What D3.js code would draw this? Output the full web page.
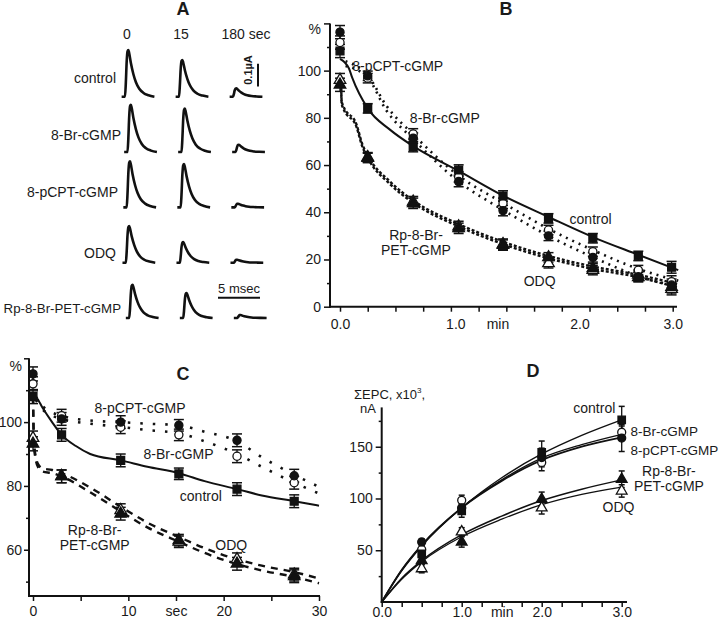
<!DOCTYPE html>
<html><head><meta charset="utf-8">
<script src="https://cdn.jsdelivr.net/npm/d3@7"></script>
<style>
body{margin:0;background:#fff}
svg{display:block}
text{font-family:Arial,"Liberation Sans",sans-serif;fill:#1a1a1a}
</style>
</head><body>
<svg id="fig" width="720" height="622"></svg>
<script>
// ================= DATA =================
// Panel A : EPC traces (peak amplitude, µA) at 0, 15 and 180 sec
const aRows = ["control","8-Br-cGMP","8-pCPT-cGMP","ODQ","Rp-8-Br-PET-cGMP"];
const aCols = ["0","15","180 sec"];
const aAmp = [
  [0.206,0.162,0.037],
  [0.208,0.191,0.032],
  [0.203,0.191,0.016],
  [0.161,0.091,0.013],
  [0.146,0.110,0.013]
];
const aLatency = [0,0.3,0.2,0.1,0.5]; // ms
// normalised EPC waveform (ms, fraction of peak)
const aShapeT = [-0.4,0,0.1,0.2,0.3,0.4,0.5,0.7,1.0,1.3,1.7,2.2,2.8,3.5];
const aShapeV = [0,0,0.3,0.75,0.97,1.0,0.93,0.72,0.48,0.31,0.17,0.08,0.03,0];

// Panel B : % of initial EPC vs time (min)
const bTimes   = [0,0.25,0.66,1.07,1.47,1.88,2.28,2.69,2.99];
const bControl = [108.3,84,67.8,57.9,46.9,37.4,29,21.5,16.7];
const bBr      = [111.9,96.8,73.2,55,43.8,32.5,23.3,15.5,10.6];
const bPcpt    = [116.3,97.8,71.4,53,40.7,30,20.9,12.7,9.2];
const bRp      = [94,63.3,43.8,33.2,26.1,20.9,16.3,12.5,8.3];
const bOdq     = [96,63,44.5,34,26.5,18.4,15.5,13.5,7.5];
const bErr     = [2.8,2,2.2,2.2,2.2,2,2,2,2.5];
const bFitCtlT = [0,0.08,0.11,0.25,0.45,0.66,1.07,1.47,1.88,2.28,2.69,3.05];
const bFitCtlV = [105,101,97,84,75,68,57.5,47,38,29.5,22,15.5];
const bFitCgT  = [0.05,0.25,0.42,0.66,1.07,1.47,1.88,2.28,2.69,3.05];
const bFitPcptV= [102,97,83,71,53,41,30,21,13,8.5];
const bFitBrV  = [104,98,85,73,55.5,44,33,24,16,11];
const bFitInT  = [0.01,0.015,0.03,0.15,0.2,0.25,0.45,0.66,1.07,1.47,1.88,2.28,2.69,3.05];
const bFitRpV  = [94,86,84,76,68,63,52,44,34,26.5,20.5,16,12.5,8];
const bFitOdqV = [95,87,85,77,69,64,53,45,35,27.5,21.5,17,13.5,9.5];
const bXLabelAt = [0,1.04,1.42,2.16,3.0];
const bXLabels  = ["0.0","1.0","min","2.0","3.0"];

// Panel C : % vs time (sec)
const cTimes   = [0,3,9.2,15.3,21.4,27.4];
const cControl = [108,96,88,83.8,79,75.2];
const cBr      = [112,102,98.4,96,89.3,81];
const cPcpt    = [115.1,101,100,99,94.3,83.2];
const cRp      = [93.2,83,71.3,63,55.6,51.7];
const cOdq     = [95,83,72.4,62.5,57,52.2];
const cErr     = [2.2,2,2,1.8,2,2];
const cFitCtlT = [0,0.4,1,2,3,4.5,6,9.2,12,15.3,18,21.4,24,27.4,30];
const cFitCtlV = [108,107.5,104.5,100,96,92.5,90,88,86,84,81.5,79,77,75.2,73.8];
const cFitCgT  = [0.3,1,3,6,9.2,12,15.3,18,21.4,24,27.4,30.5];
const cFitPcptV= [108,105,102,100.5,100,99.5,99,97,94,89,83.5,79];
const cFitBrV  = [107,104,101,99.5,98.5,97.5,96.5,94,90,86,81,77];
const cFitInT  = [0,0.1,0.3,0.6,1,2,3,6,9.2,12,15.3,18,21.4,24,27.4,30];
const cFitRpV  = [108,93,88,85.5,84.5,84,83,78,72,67,62.5,59,55.5,53.5,51.5,49.5];
const cFitOdqV = [108,94,89,86.5,85.5,85,84,79.5,73.5,68.5,64,60.5,57,55,53,51];
const cXLabelAt = [0,10,15,20,30];
const cXLabels  = ["0","10","sec","20","30"];

// Panel D : cumulative EPC (x10^3 nA) vs time (min)
const dTimes   = [0.5,1,2,3];
const dControl = [46.4,87.9,144.5,176];
const dBr      = [50.7,98.2,134.8,164];
const dPcpt    = [58,91,139.6,158.4];
const dRp      = [40,58,99.2,118.6];
const dOdq     = [32.2,67.8,91,107.3];
const dErrCtl  = [5,6,11,13];
const dErrBr   = [4,5,8,6];
const dErrPcpt = [3,5,9,13];
const dErrRp   = [4,5,7,8];
const dErrOdq  = [4,4,6,6];
const dFitT    = [0,0.25,0.5,1,1.5,2,2.5,3];
const dFitCtl  = [0,30,54,91,120,143,161,176];
const dFitBr   = [0,31,55,91,118,139,152,162];
const dFitPcpt = [0,31,55,91,117,137,150,159];
const dFitRp   = [0,23,40,65,83,98,109,118];
const dFitOdq  = [0,22,39,63,80,94,104,111];
const dXLabelAt = [0,1,1.5,2,3];
const dXLabels  = ["0.0","1.0","min","2.0","3.0"];

// ================= DRAWING =================
const svg = d3.select("#fig");
const INK = "#111";

function txt(x,y,s,opt={}){
  const t = svg.append("text").attr("x",x).attr("y",y).text(s)
    .attr("font-size",opt.size||14).attr("text-anchor",opt.anchor||"start");
  if(opt.bold) t.attr("font-weight","bold");
  return t;
}
const symType = {square:d3.symbolSquare, circle:d3.symbolCircle, triangle:d3.symbolTriangle};
function marker(g,type,open,x,y,size){
  g.append("path").attr("d",d3.symbol(symType[type], size || (type==="square"?62:type==="circle"?52:58))())
    .attr("transform",`translate(${x},${y})`)
    .attr("fill",open?"#fff":INK).attr("stroke",INK).attr("stroke-width",1.3);
}
function errbars(g,xs,ys,times,vals,errs,cap=5){
  times.forEach((t,i)=>{
    const e = Array.isArray(errs)?errs[i]:errs;
    const x = xs(t), y1 = ys(vals[i]-e), y2 = ys(vals[i]+e);
    g.append("line").attr("x1",x).attr("x2",x).attr("y1",y1).attr("y2",y2).attr("stroke",INK).attr("stroke-width",1.3);
    [y1,y2].forEach(y=>g.append("line").attr("x1",x-cap).attr("x2",x+cap).attr("y1",y).attr("y2",y).attr("stroke",INK).attr("stroke-width",1.5));
  });
}
function points(g,xs,ys,times,vals,type,open,size){
  times.forEach((t,i)=>marker(g,type,open,xs(t),ys(vals[i]),size));
}
function fit(g,xs,ys,T,V,dash,w){
  const line = d3.line().x(d=>xs(d[0])).y(d=>ys(d[1])).curve(d3.curveMonotoneX);
  g.append("path").attr("d",line(T.map((t,i)=>[t,V[i]]))).attr("fill","none")
   .attr("stroke",INK).attr("stroke-width",w||2).attr("stroke-dasharray",dash||null);
}
function styleAxis(sel){
  sel.select(".domain").remove();
  sel.selectAll("line").attr("stroke",INK).attr("stroke-width",1.5);
  sel.selectAll("text").attr("font-size",14).attr("fill","#1a1a1a").attr("font-family","Arial, Liberation Sans, sans-serif");
}
function axisLine(x1,y1,x2,y2){
  svg.append("line").attr("x1",x1).attr("y1",y1).attr("x2",x2).attr("y2",y2).attr("stroke",INK).attr("stroke-width",2);
}

// ---------- Panel A ----------
(function(){
  const g = svg.append("g");
  const rowBase = d3.scalePoint().domain(aRows).range([96.7,318]);
  const colOn = d3.scalePoint().domain(aCols).range([125,233]);
  const pxPerMs = 8.4, pxPerUA = 227;
  txt(183,15,"A",{size:18,bold:true,anchor:"middle"});
  aCols.forEach((c,j)=>txt(j===2?colOn(c)+13:colOn(c)+2,39,c,{anchor:"middle"}));
  aRows.forEach((r,i)=>{
    txt(i===1||i===4?121:i===2?118:116,[83.3,140,196.7,258.3,313.3][i],r,{anchor:"end",size:i===4?13.3:14});
    aCols.forEach((c,j)=>{
      const x0 = colOn(c) + aLatency[i]*pxPerMs;
      const xs = d3.scaleLinear().domain([0,1]).range([x0,x0+pxPerMs]);
      const ys = d3.scaleLinear().domain([0,0.1]).range([rowBase(r),rowBase(r)-0.1*pxPerUA]);
      const line = d3.line().x(d=>xs(d[0])).y(d=>ys(d[1])).curve(d3.curveMonotoneX);
      g.append("path").attr("d",line(aShapeT.map((t,k)=>[t,aShapeV[k]*aAmp[i][j]])))
        .attr("fill","none").attr("stroke",INK).attr("stroke-width",2.6).attr("stroke-linejoin","round");
    });
  });
  // scale bars
  const ysb = d3.scaleLinear().domain([0,0.1]).range([86.5,86.5-0.1*pxPerUA]);
  g.append("line").attr("x1",258).attr("x2",258).attr("y1",ysb(0)).attr("y2",ysb(0.1)).attr("stroke",INK).attr("stroke-width",2);
  svg.append("text").attr("transform","translate(252,70) rotate(-90)").attr("text-anchor","middle")
     .attr("font-size",11).attr("font-weight","bold").text("0.1µA");
  const xsb = d3.scaleLinear().domain([0,5]).range([218,218+5*pxPerMs]);
  g.append("line").attr("x1",xsb(0)).attr("x2",xsb(5)).attr("y1",297.7).attr("y2",297.7).attr("stroke",INK).attr("stroke-width",2);
  txt(239,293,"5 msec",{anchor:"middle",size:13});
})();

// ---------- Panel B ----------
(function(){
  const g = svg.append("g");
  const xs = d3.scaleLinear().domain([0,3]).range([340,672.7]);
  const ys = d3.scaleLinear().domain([0,120]).range([306.7,23.4]);
  txt(506,15,"B",{size:18,bold:true,anchor:"middle"});
  axisLine(330,23.4,330,307.7); axisLine(329,306.7,677,306.7);
  const ya = svg.append("g").attr("transform","translate(330,0)")
    .call(d3.axisLeft(ys).tickValues([0,20,40,60,80,100,120]).tickSize(6).tickPadding(3).tickFormat(d=>d===120?"%":d));
  styleAxis(ya); ya.selectAll("text").filter(d=>d===120).attr("dy","0.75em");
  const ym = svg.append("g").attr("transform","translate(330,0)")
    .call(d3.axisLeft(ys).tickValues([10,30,50,70,90,110]).tickSize(3).tickFormat(""));
  styleAxis(ym);
  const xa = svg.append("g").attr("transform","translate(0,306.7)")
    .call(d3.axisBottom(xs).tickValues(d3.range(0,3.01,0.25)).tickSize(5).tickFormat(""));
  styleAxis(xa);
  const xl = svg.append("g").attr("transform","translate(0,306.7)")
    .call(d3.axisBottom(xs).tickValues(bXLabelAt).tickSize(0).tickPadding(12).tickFormat((d,i)=>bXLabels[i]));
  styleAxis(xl);

  fit(g,xs,ys,bFitInT,bFitRpV,"3,2",2.4);
  fit(g,xs,ys,bFitInT,bFitOdqV,"3,2",2.4);
  fit(g,xs,ys,bFitCgT,bFitPcptV,"2,5",2.6);
  fit(g,xs,ys,bFitCgT,bFitBrV,"2,5",2.6);
  fit(g,xs,ys,bFitCtlT,bFitCtlV,null,2);
  [bControl,bBr,bPcpt,bRp,bOdq].forEach(v=>errbars(g,xs,ys,bTimes,v,bErr));
  points(g,xs,ys,bTimes,bOdq,"triangle",true);
  points(g,xs,ys,bTimes,bRp,"triangle",false);
  points(g,xs,ys,bTimes,bBr,"circle",true);
  points(g,xs,ys,bTimes,bPcpt,"circle",false);
  points(g,xs,ys,bTimes,bControl,"square",false);
  txt(xs(0.11),ys(100),"8-pCPT-cGMP");
  txt(xs(0.63),ys(77.8),"8-Br-cGMP");
  txt(xs(2.07),ys(35),"control");
  txt(xs(0.685),ys(28.3),"Rp-8-Br-",{anchor:"middle"});
  txt(xs(0.685),ys(21.9),"PET-cGMP",{anchor:"middle"});
  txt(xs(1.8),ys(8.8),"ODQ",{anchor:"middle"});
})();

// ---------- Panel C ----------
(function(){
  const g = svg.append("g");
  const xs = d3.scaleLinear().domain([0,30]).range([33,319]);
  const ys = d3.scaleLinear().domain([45.5,120]).range([596,358.3]);
  txt(183,380,"C",{size:18,bold:true,anchor:"middle"});
  axisLine(29,358.3,29,597); axisLine(28,596,320,596);
  const ya = svg.append("g").attr("transform","translate(29,0)")
    .call(d3.axisLeft(ys).tickValues([60,80,100,120]).tickSize(5).tickPadding(2).tickFormat(d=>d===120?"%":d));
  styleAxis(ya); ya.selectAll("text").filter(d=>d===120).attr("dy","0.9em");
  const ym = svg.append("g").attr("transform","translate(29,0)")
    .call(d3.axisLeft(ys).tickValues([50,70,90,110]).tickSize(3).tickFormat(""));
  styleAxis(ym);
  const xa = svg.append("g").attr("transform","translate(0,596)")
    .call(d3.axisBottom(xs).tickValues(d3.range(0,30.1,5)).tickSize(5).tickFormat(""));
  styleAxis(xa);
  const xl = svg.append("g").attr("transform","translate(0,596)")
    .call(d3.axisBottom(xs).tickValues(cXLabelAt).tickSize(0).tickPadding(10).tickFormat((d,i)=>cXLabels[i]));
  styleAxis(xl);

  fit(g,xs,ys,cFitInT,cFitRpV,"7,6",2.4);
  fit(g,xs,ys,cFitInT,cFitOdqV,"7,6",2.4);
  fit(g,xs,ys,cFitCgT,cFitPcptV,"2.5,10",2.6);
  fit(g,xs,ys,cFitCgT,cFitBrV,"2.5,10",2.6);
  fit(g,xs,ys,cFitCtlT,cFitCtlV,null,2);
  [cControl,cBr,cPcpt,cRp,cOdq].forEach(v=>errbars(g,xs,ys,cTimes,v,cErr));
  points(g,xs,ys,cTimes,cOdq,"triangle",true);
  points(g,xs,ys,cTimes,cRp,"triangle",false);
  points(g,xs,ys,cTimes,cBr,"circle",true);
  points(g,xs,ys,cTimes,cPcpt,"circle",false);
  points(g,xs,ys,cTimes,cControl,"square",false);
  txt(xs(6.46),ys(102.9),"8-pCPT-cGMP");
  txt(xs(11.6),ys(88.5),"8-Br-cGMP");
  txt(xs(15.4),ys(75.2),"control");
  txt(xs(6.47),ys(64.5),"Rp-8-Br-",{anchor:"middle"});
  txt(xs(6.47),ys(59.8),"PET-cGMP",{anchor:"middle"});
  txt(xs(20.8),ys(59.9),"ODQ",{anchor:"middle"});
})();

// ---------- Panel D ----------
(function(){
  const g = svg.append("g");
  const xs = d3.scaleLinear().domain([0,3]).range([381.7,621.7]);
  const ys = d3.scaleLinear().domain([0,188]).range([602,407.4]);
  txt(533,377,"D",{size:18,bold:true,anchor:"middle"});
  const lab = svg.append("text").attr("x",354).attr("y",399).attr("font-size",13);
  lab.append("tspan").text("ΣEPC, x10");
  lab.append("tspan").attr("font-size",8).attr("dy",-6).text("3");
  lab.append("tspan").attr("dy",6).text(",");
  txt(360,413,"nA",{size:13});
  axisLine(381.7,407.4,381.7,603); axisLine(380.7,602,627,602);
  const ya = svg.append("g").attr("transform","translate(381.7,0)")
    .call(d3.axisLeft(ys).tickValues([50,100,150]).tickSize(6).tickPadding(3));
  styleAxis(ya);
  const ym = svg.append("g").attr("transform","translate(381.7,0)")
    .call(d3.axisLeft(ys).tickValues([25,75,125,175]).tickSize(3).tickFormat(""));
  styleAxis(ym);
  const xa = svg.append("g").attr("transform","translate(0,602)")
    .call(d3.axisBottom(xs).tickValues(d3.range(0,3.01,0.25)).tickSize(5).tickFormat(""));
  styleAxis(xa);
  const xl = svg.append("g").attr("transform","translate(0,602)")
    .call(d3.axisBottom(xs).tickValues(dXLabelAt).tickSize(0).tickPadding(5).tickFormat((d,i)=>dXLabels[i]));
  styleAxis(xl);

  fit(g,xs,ys,dFitT,dFitCtl,null,1.4);
  fit(g,xs,ys,dFitT,dFitBr,null,1.3);
  fit(g,xs,ys,dFitT,dFitPcpt,null,1.8);
  fit(g,xs,ys,dFitT,dFitRp,null,1.5);
  fit(g,xs,ys,dFitT,dFitOdq,null,1.3);
  errbars(g,xs,ys,dTimes,dControl,dErrCtl,3);
  errbars(g,xs,ys,dTimes,dBr,dErrBr,3);
  errbars(g,xs,ys,dTimes,dPcpt,dErrPcpt,3);
  errbars(g,xs,ys,dTimes,dRp,dErrRp,3);
  errbars(g,xs,ys,dTimes,dOdq,dErrOdq,3);
  points(g,xs,ys,dTimes,dOdq,"triangle",true,50);
  points(g,xs,ys,dTimes,dRp,"triangle",false,50);
  points(g,xs,ys,dTimes,dBr,"circle",true,50);
  points(g,xs,ys,dTimes,dPcpt,"circle",false,50);
  points(g,xs,ys,dTimes,dControl,"square",false,55);
  txt(xs(2.92),ys(182.3),"control",{anchor:"end"});
  txt(xs(3.11),ys(160.4),"8-Br-cGMP",{size:13.5});
  txt(xs(3.11),ys(142),"8-pCPT-cGMP",{size:13.5});
  txt(xs(3.59),ys(122),"Rp-8-Br-",{anchor:"middle"});
  txt(xs(3.59),ys(107.5),"PET-cGMP",{anchor:"middle"});
  txt(xs(2.96),ys(87.2),"ODQ",{anchor:"middle"});
})();
</script>
</body></html>
